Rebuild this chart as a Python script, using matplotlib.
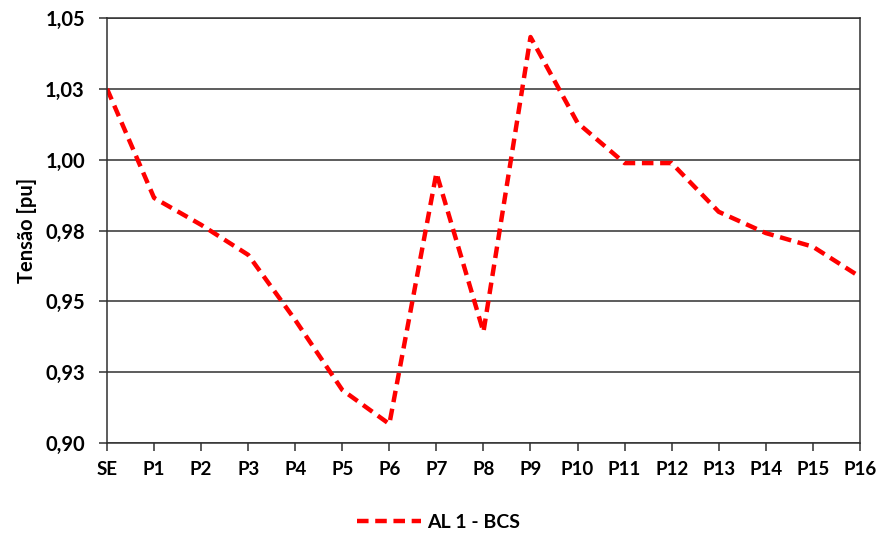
import matplotlib.pyplot as plt

# pontos do alimentador
pontos = ["SE", "P1", "P2", "P3", "P4", "P5", "P6", "P7", "P8",
          "P9", "P10", "P11", "P12", "P13", "P14", "P15", "P16"]
tensao = [1.025, 0.9865, 0.977, 0.9664, 0.9434, 0.9187, 0.9067, 0.9953, 0.9392,
          1.0433, 1.013, 0.9988, 0.9988, 0.9816, 0.9741, 0.9693, 0.9587]

y_ticks = [0.90, 0.925, 0.95, 0.975, 1.00, 1.025, 1.05]
y_labels = ["0,90", "0,93", "0,95", "0,98", "1,00", "1,03", "1,05"]

plt.rcParams['font.family'] = ['Lato', 'DejaVu Sans']
plt.rcParams['font.weight'] = 'bold'

fig = plt.figure(figsize=(8.81, 5.38), dpi=100)
ax = fig.add_axes([0.1215, 0.1766, 0.8545, 0.7899])

x = list(range(len(pontos)))
ax.plot(x, tensao, color='#ff0000', lw=3.2, linestyle=(0, (2.6, 1.5)),
        label='AL 1 - BCS', solid_capstyle='butt')

ax.set_xlim(0, len(pontos) - 1)
ax.set_ylim(0.90, 1.05)
ax.set_xticks(x)
ax.set_xticklabels(pontos, fontsize=13.5, fontweight='bold')
ax.set_yticks(y_ticks)
ax.set_yticklabels(y_labels, fontsize=14.5, fontweight='bold')
ax.set_ylabel("Tensão [pu]", fontsize=14.5, fontweight='bold', labelpad=6)

ax.grid(axis='y', color='#303030', lw=1.1)
ax.set_axisbelow(True)
for s in ax.spines.values():
    s.set_color('#303030')
    s.set_linewidth(1.1)
ax.tick_params(axis='both', direction='out', length=6, width=1.1, color='#303030')
ax.tick_params(axis='y', pad=10)
ax.tick_params(axis='x', pad=7)

ax.legend(loc='upper center', bbox_to_anchor=(0.44, -0.125), frameon=False,
          handlelength=3.3, handletextpad=0.3,
          prop={'weight': 'bold', 'size': 14})

fig.savefig('out.png', dpi=100)
